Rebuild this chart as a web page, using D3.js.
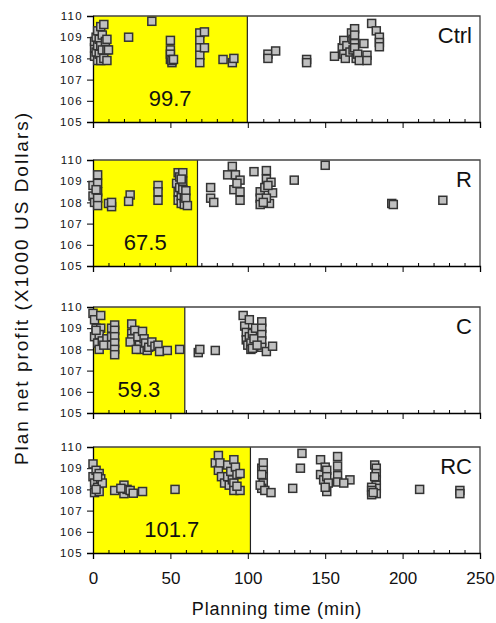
<!DOCTYPE html>
<html><head><meta charset="utf-8">
<script src="https://cdn.jsdelivr.net/npm/d3@7"></script>
<style>
body{margin:0;background:#fff;}
svg text{font-family:"Liberation Sans",Arial,sans-serif;}
</style></head>
<body><svg id="c" width="496" height="623"></svg>
<script>
const panelNames = ["Ctrl","R","C","RC"];
const meanTimes = [99.7, 67.5, 59.3, 101.7];
const xTicks = [0,50,100,150,200,250];
const yTicks = [105,106,107,108,109,110];

const ctrlPoints = [
 [1,108.1],[1,108.5],[1,108.8],[2,109.0],[2,108.3],[3,109.3],[3,108.6],[3,107.9],[4,108.2],[4,108.9],
 [5,109.5],[5,108.6],[5,107.9],[6,109.1],[6,108.4],[7,109.6],[7,108.0],[8,108.8],[9,108.4],[9,107.9],[10,108.4],[9,108.9],
 [23,109.0],[38,109.75],
 [50,108.85],[50,108.4],[50,108.2],[50,107.95],[51,107.8],[51,107.9],[52,107.95],
 [69,109.2],[69,108.85],[69,108.5],[69,108.15],[69,107.8],[72,109.25],[72,108.5],
 [84,107.95],[90,107.8],[91,108.0],
 [113,108.2],[113,108.0],[118,108.35],[138,107.95],[138,107.8],
 [156,108.1],[161,108.5],[162,108.85],[162,108.2],[163,108.0],[164,108.6],[166,108.3],[167,109.2],[168,108.9],[168,108.4],
 [169,109.4],[169,109.1],[169,108.7],[169,108.5],[170,108.0],[171,108.2],[172,107.9],[175,108.7],[177,108.15],[177,107.9],
 [180,109.65],[183,109.3],[185,109.0],[185,108.75],[185,108.55]
];
const rPoints = [
 [0,108.8],[0,108.3],[1,108.0],[3,109.3],[3,108.9],[3,108.5],[3,108.2],[3,107.85],[2,108.6],
 [10,107.95],[12,107.8],[12,108.0],[24,108.35],[23,108.05],[42,108.8],[42,108.5],[42,108.1],
 [54,108.9],[55,109.4],[55,108.5],[55,108.1],[56,109.2],[56,108.7],[57,108.3],[57,107.95],[58,109.4],[58,109.0],
 [58,108.6],[59,108.2],[59,107.9],[60,108.55],[60,108.2],[61,107.85],[57,109.1],
 [76,108.7],[76,108.2],[78,108.0],
 [90,109.7],[87,109.3],[92,109.3],[95,109.05],[91,108.6],[95,108.5],[95,108.1],[93,108.9],
 [104,109.45],
 [112,109.5],[112,109.1],[115,108.95],[108,108.5],[108,108.2],[108,107.9],[111,108.7],[116,108.45],[114,107.95],[112,108.2],[110,108.0],[113,108.8],
 [130,109.05],[150,109.75],[193,107.95],[194,107.9],[226,108.1]
];
const cPoints = [
 [0,109.7],[1,109.4],[2,109.0],[1,108.6],[3,108.3],[5,109.6],[5,109.0],[4,108.7],[6,108.4],[4,108.0],[9,108.5],[2,108.9],[7,108.2],
 [12,109.0],[12,108.6],[12,108.2],[14,109.15],[14,108.9],[14,108.6],[14,108.3],[14,108.0],[14,107.75],
 [25,109.2],[25,108.75],[25,108.5],[24,108.35],[27,108.9],[29,108.6],[30,108.2],[31,108.0],[32,108.85],[33,108.5],
 [34,108.3],[35,107.95],[36,108.1],[38,108.35],[40,108.15],[42,108.2],[43,107.9],[48,107.95],[56,108.0],[28,108.0],
 [68,107.85],[69,108.0],[79,107.95],
 [97,109.6],[98,109.1],[99,108.8],[99,108.45],[100,108.2],[101,109.4],[101,108.6],[102,108.3],[102,108.0],[103,108.75],
 [103,108.05],[104,108.5],[105,109.0],[109,109.3],[109,109.0],[109,108.7],[109,108.4],[109,108.1],[112,107.9],[116,108.15],[106,108.2]
];
const rcPoints = [
 [0,109.2],[0,108.6],[1,108.3],[1,107.85],[2,108.9],[3,108.1],[4,108.75],[4,107.9],[5,108.5],[6,108.3],[3,108.6],[2,108.0],
 [14,107.95],[20,108.2],[20,107.8],[22,108.0],[24,107.95],[26,107.82],[32,107.9],[18,108.05],[53,108.0],
 [79,109.25],[81,109.6],[81,108.9],[82,109.25],[83,108.6],[85,108.3],[87,109.15],[87,108.6],[88,108.2],[89,108.85],
 [90,108.45],[91,109.4],[92,109.05],[91,108.3],[91,107.95],[93,108.7],[95,108.75],[95,107.95],[93,108.15],
 [109,109.0],[110,109.25],[110,108.9],[110,108.6],[110,108.3],[109,108.05],[108,108.2],[109,108.7],[111,107.95],[115,107.85],
 [129,108.05],[135,109.7],[134,109.0],
 [147,109.4],[147,108.7],[149,108.45],[150,109.05],[151,108.9],[151,108.6],[152,108.3],[151,107.9],[158,109.55],[158,109.1],
 [158,108.65],[158,108.35],[166,108.45],[162,108.3],[150,108.1],
 [182,109.15],[183,109.0],[183,108.75],[183,108.45],[183,108.2],[183,108.05],[183,107.8],[180,108.1],[180,107.95],[180,107.75],
 [181,107.85],[182,108.6],
 [211,108.0],[237,107.95],[237,107.8]
];
const panelData = [ctrlPoints, rPoints, cPoints, rcPoints];

const svg = d3.select("#c");
const left = 93, right = 480, ph = 106;
const tops = [16, 160, 307, 447];
const x = d3.scaleLinear().domain([0,250]).range([left,right]);
const minorTicks = d3.range(10,250,10).filter(v => v % 50 !== 0);

panelNames.forEach((name, i) => {
  const top = tops[i];
  const y = d3.scaleLinear().domain([105,110]).range([top+ph, top]);
  const g = svg.append("g");
  g.append("rect").attr("x", x(0)).attr("y", y(110))
    .attr("width", x(meanTimes[i]) - x(0)).attr("height", y(105) - y(110))
    .attr("fill", "#ffff00");
  g.append("line").attr("x1", x(meanTimes[i])).attr("x2", x(meanTimes[i]))
    .attr("y1", y(110)).attr("y2", y(105)).attr("stroke", "#222").attr("stroke-width", 1.2);
  g.append("path").attr("d", `M${x(0)},${y(110)}H${x(250)}V${y(105)}`)
    .attr("fill","none").attr("stroke","#444").attr("stroke-width",1.3);
  const ya = g.append("g").attr("transform", `translate(${x(0)},0)`)
    .call(d3.axisLeft(y).tickValues(yTicks).tickSize(6).tickPadding(4).tickFormat(d3.format("d")));
  ya.select(".domain").attr("stroke","#000").attr("stroke-width",1.3);
  ya.selectAll(".tick line").attr("stroke","#000");
  ya.selectAll("text").style("font-size","11.5px").style("letter-spacing","1.3px").attr("fill","#111");
  const xa = g.append("g").attr("transform", `translate(0,${y(105)})`)
    .call(d3.axisBottom(x).tickValues(xTicks).tickSize(6).tickPadding(13)
      .tickFormat(i === 3 ? d3.format("d") : () => ""));
  xa.select(".domain").attr("stroke","#000").attr("stroke-width",1.3);
  xa.selectAll(".tick line").attr("stroke","#000");
  xa.selectAll("text").style("font-size","17px").attr("fill","#111");
  const xm = g.append("g").attr("transform", `translate(0,${y(105)})`)
    .call(d3.axisBottom(x).tickValues(minorTicks).tickSize(-3).tickFormat(() => ""));
  xm.select(".domain").remove();
  xm.selectAll(".tick line").attr("stroke","#000");
  g.append("g").selectAll("rect").data(panelData[i]).join("rect")
    .attr("x", d => x(d[0]) - 4).attr("y", d => y(d[1]) - 4)
    .attr("width", 8).attr("height", 8)
    .attr("fill", "#c0c0c0").attr("stroke", "#333").attr("stroke-width", 1.5);
  g.append("text").attr("x", 472).attr("y", top + 27).attr("text-anchor","end")
    .style("font-size","22px").attr("fill","#111").text(name);
  g.append("text").attr("x", (x(0) + x(meanTimes[i])) / 2).attr("y", top + 90)
    .attr("text-anchor","middle").style("font-size","22px").attr("fill","#111")
    .text(meanTimes[i]);
});

svg.append("text").attr("x", 277).attr("y", 615).attr("text-anchor","middle")
  .style("font-size","18px").style("letter-spacing","0.8px").attr("fill","#111").text("Planning time (min)");
svg.append("text").attr("transform","translate(28,288) rotate(-90)").attr("text-anchor","middle")
  .style("font-size","19px").style("letter-spacing","2px").attr("fill","#111").text("Plan net profit (X1000 US Dollars)");
</script></body></html>
